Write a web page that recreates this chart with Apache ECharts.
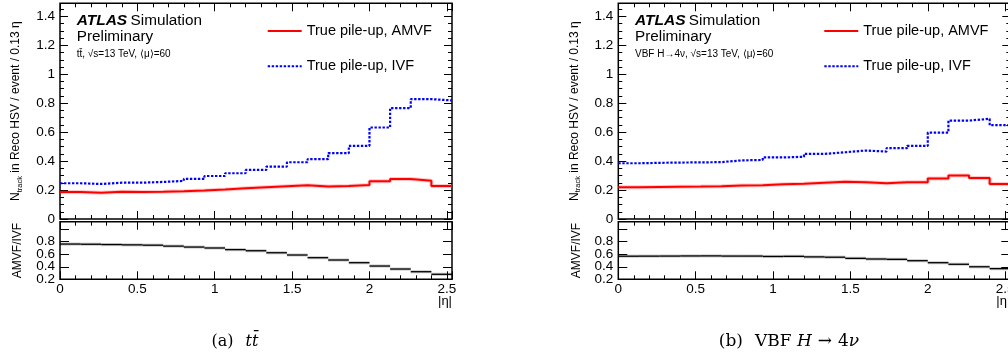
<!DOCTYPE html>
<html><head><meta charset="utf-8">
<script src="https://cdn.jsdelivr.net/npm/echarts@6/dist/echarts.min.js"></script>
<style>html,body{margin:0;padding:0;background:#fff}#c{width:1008px;height:358px}</style>
</head><body><div id="c"></div>
<script>
// ---------------- data ----------------
const N_BINS = 19;
const BIN_WIDTH = 2 / 15;          // bin width in |eta| (~0.13)
const ETA_MAX = N_BINS * BIN_WIDTH;

const ttbarAMVF  = [0.186, 0.182, 0.188, 0.187, 0.189, 0.192, 0.197, 0.204, 0.212, 0.219, 0.226, 0.233, 0.224, 0.228, 0.235, 0.261, 0.277, 0.265, 0.228];
const ttbarIVF   = [0.247, 0.242, 0.251, 0.251, 0.256, 0.263, 0.277, 0.297, 0.316, 0.339, 0.362, 0.392, 0.413, 0.455, 0.505, 0.632, 0.766, 0.828, 0.819];
const ttbarRatio = [0.763, 0.760, 0.755, 0.750, 0.745, 0.730, 0.715, 0.700, 0.674, 0.656, 0.624, 0.588, 0.545, 0.508, 0.465, 0.412, 0.364, 0.321, 0.280];

const vbfAMVF  = [0.219, 0.221, 0.223, 0.224, 0.226, 0.231, 0.233, 0.240, 0.244, 0.251, 0.258, 0.254, 0.247, 0.254, 0.254, 0.279, 0.300, 0.284, 0.242];
const vbfIVF   = [0.385, 0.388, 0.390, 0.391, 0.393, 0.405, 0.408, 0.425, 0.430, 0.450, 0.461, 0.473, 0.466, 0.489, 0.505, 0.597, 0.680, 0.692, 0.648];
const vbfRatio = [0.569, 0.570, 0.571, 0.573, 0.574, 0.571, 0.571, 0.565, 0.567, 0.558, 0.553, 0.535, 0.524, 0.519, 0.497, 0.465, 0.440, 0.400, 0.370];

const xTickLabels      = ['0', '0.5', '1', '1.5', '2', '2.5'];
const mainYTickLabels  = ['0', '0.2', '0.4', '0.6', '0.8', '1', '1.2', '1.4'];
const ratioYTickLabelsA = ['0.4', '0.8'];   // ratio tick labels, drawn by two axes so that
const ratioYTickLabelsB = ['0.2', '0.6'];   // neighbouring labels are not dropped for overlap

const NAME_AMVF = 'True pile-up, AMVF';
const NAME_IVF  = 'True pile-up, IVF';

// ---------------- layout / style ----------------
const FONT = '"Liberation Sans", Arial, Helvetica, sans-serif';
const SERIF = '"DejaVu Serif", "Liberation Serif", serif';
const MAIN_TOP = 3.3, MAIN_H = 215.7, RATIO_TOP = 221.7, RATIO_H = 57.6, PANEL_W = 392;
const RATIO_MIN = 0.2, RATIO_MAX = 1.12, MAIN_MAX = 1.49;

const panels = [
  { left: 60,    amvf: ttbarAMVF, ivf: ttbarIVF, ratio: ttbarRatio,
    process: 'tt\u0304, \u221As=13 TeV, \u27E8\u03BC\u27E9=60', legendLeft: 266.7 },
  { left: 618.3, amvf: vbfAMVF,   ivf: vbfIVF,   ratio: vbfRatio,
    process: 'VBF H\u21924\u03BD, \u221As=13 TeV, \u27E8\u03BC\u27E9=60', legendLeft: 823.3 }
];

const fmt = v => String(+(+v).toFixed(3));
const tickLine = { color: '#000', width: 1 };

const grids = [], xAxes = [], yAxes = [], series = [], legends = [], graphics = [];

function histPoints(vals) {
  const pts = vals.map((v, i) => [i * BIN_WIDTH, v]);
  pts.push([N_BINS * BIN_WIDTH, vals[vals.length - 1]]);
  return pts;
}

function xAxis(gridIndex, position, showLabels, majorLen, minorLen) {
  return {
    type: 'value', gridIndex, position, min: 0, max: ETA_MAX, interval: 0.5,
    axisLine: { show: false, onZero: false },
    axisTick: { show: true, inside: true, length: majorLen, lineStyle: tickLine },
    minorTick: { show: true, splitNumber: 5, length: minorLen, lineStyle: tickLine },
    splitLine: { show: false }, minorSplitLine: { show: false },
    axisLabel: { show: showLabels, margin: 3, color: '#000', fontFamily: FONT, fontSize: 13.5,
      showMinLabel: true, hideOverlap: false,
      formatter: v => xTickLabels.includes(fmt(v)) ? fmt(v) : '' }
  };
}

function yAxis(gridIndex, position, min, max, minorSplit, labels, showLabels, majorLen, minorLen, extra) {
  return Object.assign({
    type: 'value', gridIndex, position, min, max, interval: 0.2,
    axisLine: { show: false, onZero: false },
    axisTick: { show: majorLen > 0, inside: true, length: majorLen, lineStyle: tickLine },
    minorTick: { show: minorSplit > 0, splitNumber: minorSplit || 5, length: minorLen, lineStyle: tickLine },
    splitLine: { show: false }, minorSplitLine: { show: false },
    axisLabel: { show: showLabels, margin: 5, color: '#000', fontFamily: FONT, fontSize: 13.5,
      hideOverlap: false,
      formatter: v => labels.includes(fmt(v)) ? fmt(v) : '' }
  }, extra || {});
}

function gridDef(left, top, height, show) {
  return { left, top, width: PANEL_W, height, show, borderColor: '#000', borderWidth: 1.5,
    backgroundColor: 'transparent', containLabel: false, outerBoundsMode: 'none' };
}

panels.forEach((p, pi) => {
  const gMain = grids.length;  grids.push(gridDef(p.left, MAIN_TOP, MAIN_H, true));
  const gRatio = grids.length; grids.push(gridDef(p.left, RATIO_TOP, RATIO_H, true));
  const gRatioLbl = grids.length; grids.push(gridDef(p.left, RATIO_TOP, RATIO_H, false));

  // main panel axes
  const xMain = xAxes.length;
  xAxes.push(xAxis(gMain, 'bottom', false, 8, 4));
  xAxes.push(xAxis(gMain, 'top', false, 8, 4));
  const yMain = yAxes.length;
  yAxes.push(yAxis(gMain, 'left', 0, MAIN_MAX, 4, mainYTickLabels, true, 8, 4, {
    name: '{n|N}{s|track}{n| in Reco HSV / event / 0.13 \u03B7}',
    nameLocation: 'middle', nameRotate: 90, nameGap: 36,
    nameTextStyle: { color: '#000', fontFamily: FONT, fontSize: 12,
      rich: { n: { fontFamily: FONT, fontSize: 12, color: '#000', lineHeight: 16, verticalAlign: 'middle' },
              s: { fontFamily: FONT, fontSize: 7.5, color: '#000', lineHeight: 16, verticalAlign: 'bottom' } } }
  }));
  yAxes.push(yAxis(gMain, 'right', 0, MAIN_MAX, 4, mainYTickLabels, false, 8, 4));

  // ratio panel axes
  const xRatio = xAxes.length;
  xAxes.push(xAxis(gRatio, 'bottom', true, 8, 4));
  xAxes.push(xAxis(gRatio, 'top', false, 8, 4));
  const yRatio = yAxes.length;
  yAxes.push(yAxis(gRatio, 'left', RATIO_MIN, RATIO_MAX, 0, ratioYTickLabelsA, true, 9, 4, {
    name: 'AMVF/IVF', nameLocation: 'middle', nameRotate: 90, nameGap: 36,
    nameTextStyle: { color: '#000', fontFamily: FONT, fontSize: 12 }
  }));
  yAxes[yAxes.length - 1].axisLabel.showMinLabel = false;
  yAxes.push(yAxis(gRatio, 'right', RATIO_MIN, RATIO_MAX, 0, ratioYTickLabelsA, false, 9, 4));
  // second label set for the ratio axis (same scale, invisible grid)
  xAxes.push({ type: 'value', gridIndex: gRatioLbl, min: 0, max: ETA_MAX, show: false });
  yAxes.push(yAxis(gRatioLbl, 'left', RATIO_MIN, RATIO_MAX, 0, ratioYTickLabelsB, true, 0, 0));
  yAxes[yAxes.length - 1].axisLabel.showMinLabel = true;

  // histograms
  series.push({ name: NAME_IVF, type: 'line', step: 'end', xAxisIndex: xMain, yAxisIndex: yMain,
    data: histPoints(p.ivf), symbol: 'none', showSymbol: false, silent: true,
    lineStyle: { color: '#0000ff', width: 2.2, type: [2.4, 1.6] }, itemStyle: { color: '#0000ff' } });
  series.push({ name: 'AMVF band ' + pi, type: 'line', step: 'end', xAxisIndex: xMain, yAxisIndex: yMain,
    data: histPoints(p.amvf), symbol: 'none', showSymbol: false, silent: true,
    lineStyle: { color: 'rgba(255,0,0,0.22)', width: 4 } });
  series.push({ name: NAME_AMVF, type: 'line', step: 'end', xAxisIndex: xMain, yAxisIndex: yMain,
    data: histPoints(p.amvf), symbol: 'none', showSymbol: false, silent: true,
    lineStyle: { color: '#ff0000', width: 2 }, itemStyle: { color: '#ff0000' } });

  // ratio (horizontal bin segments)
  series.push({ name: 'ratio ' + pi, type: 'custom', xAxisIndex: xRatio, yAxisIndex: yRatio, silent: true,
    data: p.ratio.map((r, i) => [i * BIN_WIDTH, (i + 1) * BIN_WIDTH, r]),
    encode: { x: [0, 1], y: 2 },
    renderItem: (params, api) => {
      const a = api.coord([api.value(0), api.value(2)]);
      const b = api.coord([api.value(1), api.value(2)]);
      const shape = { x1: a[0], y1: a[1], x2: b[0], y2: b[1] };
      return { type: 'group', children: [
        { type: 'line', shape, style: { stroke: 'rgba(0,0,0,0.2)', lineWidth: 3.2 } },
        { type: 'line', shape, style: { stroke: '#000', lineWidth: 1.3 } }
      ] };
    } });

  legends.push({ orient: 'vertical', left: p.legendLeft, top: 23.5, padding: 0,
    itemWidth: 34, itemHeight: 10, itemGap: 20.3, selectedMode: false,
    itemStyle: { opacity: 0 },
    data: [NAME_AMVF, NAME_IVF],
    textStyle: { color: '#000', fontFamily: FONT, fontSize: 14.5, lineHeight: 14 } });

  const tx = p.left + 16.7;
  graphics.push({ type: 'text', silent: true, style: {
    x: tx, y: 20.3, verticalAlign: 'middle', align: 'left',
    text: '{a|ATLAS} {b|Simulation}',
    rich: { a: { font: 'italic bold 15.5px ' + FONT, fill: '#000' }, b: { font: '15.3px ' + FONT, fill: '#000' } } } });
  graphics.push({ type: 'text', silent: true, style: {
    x: tx, y: 37.2, verticalAlign: 'middle', align: 'left', text: 'Preliminary', font: '15.3px ' + FONT, fill: '#000' } });
  graphics.push({ type: 'text', silent: true, style: {
    x: tx, y: 54.3, verticalAlign: 'middle', align: 'left', text: p.process, font: '10px ' + FONT, fill: '#000' } });
  // x-axis title, right-aligned to the frame
  graphics.push({ type: 'text', silent: true, style: {
    x: p.left + PANEL_W, y: 301, verticalAlign: 'middle', align: 'right', text: '|\u03B7|', font: '13px ' + FONT, fill: '#000' } });
});

// captions
graphics.push({ type: 'text', silent: true, style: {
  x: 235, y: 342, align: 'center', verticalAlign: 'middle',
  text: '{r|(a)}{i|tt\u0304}',
  rich: { r: { font: '16px ' + SERIF, fill: '#000' }, i: { font: 'italic 16px ' + SERIF, fill: '#000', padding: [0, 0, 0, 12] } } } });
graphics.push({ type: 'text', silent: true, style: {
  x: 789, y: 342, align: 'center', verticalAlign: 'middle',
  text: '{r|(b)}{r2|VBF }{i|H}{a|\u2192}{r|4}{i|\u03BD}',
  rich: { r: { font: '17px ' + SERIF, fill: '#000' }, r2: { font: '17px ' + SERIF, fill: '#000', padding: [0, 0, 0, 12] },
          a: { font: '17px ' + SERIF, fill: '#000', padding: [0, 6, 0, 6] },
          i: { font: 'italic 17px ' + SERIF, fill: '#000' } } } });

const chart = echarts.init(document.getElementById('c'), null, { renderer: 'canvas' });
chart.setOption({
  backgroundColor: '#fff',
  animation: false,
  grid: grids, xAxis: xAxes, yAxis: yAxes, series, legend: legends, graphic: graphics
});
</script></body></html>
